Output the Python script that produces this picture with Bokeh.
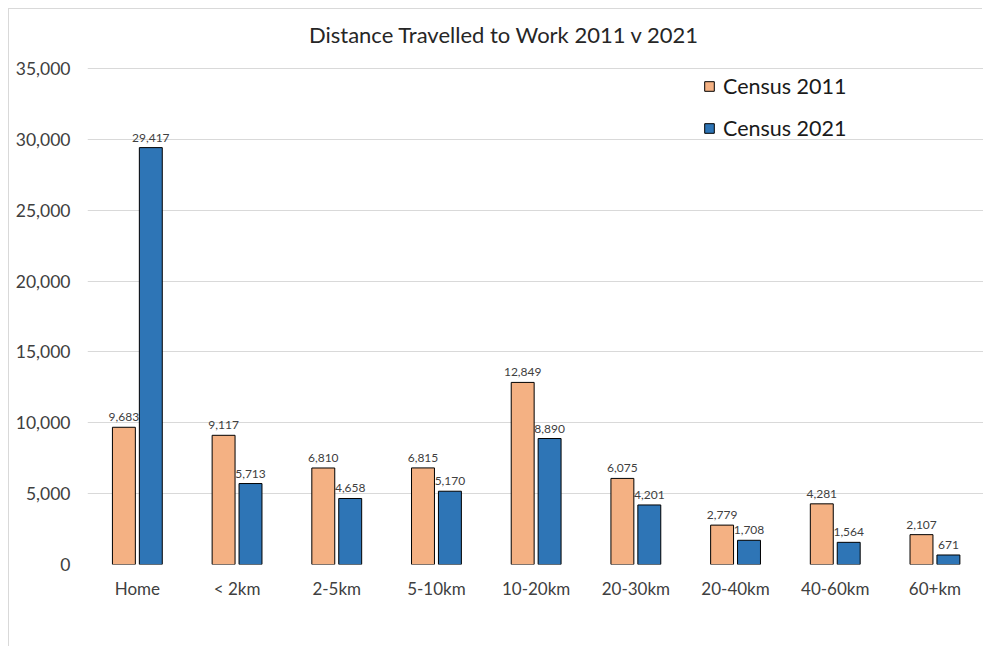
from bokeh.plotting import figure
from bokeh.models import (ColumnDataSource, Range1d, FixedTicker, NumeralTickFormatter,
                          Legend, LegendItem, Label)
from bokeh.embed import file_html
from bokeh.resources import INLINE
from bokeh.core.properties import value

categories = ["Home", "< 2km", "2-5km", "5-10km", "10-20km", "20-30km", "20-40km", "40-60km", "60+km"]
census_2011 = [9683, 9117, 6810, 6815, 12849, 6075, 2779, 4281, 2107]
census_2021 = [29417, 5713, 4658, 5170, 8890, 4201, 1708, 1564, 671]
series_names = ["Census 2011", "Census 2021"]
title_text = "Distance Travelled to Work 2011 v 2021"

FONT = "Lato"
ORANGE = "#F4B183"
BLUE = "#2E75B6"
TXT = "#404040"

xs = [i + 0.5 for i in range(len(categories))]
off = 0.135
bw = 0.23

src = ColumnDataSource(dict(
    x1=[x - off for x in xs], x2=[x + off for x in xs],
    y1=census_2011, y2=census_2021,
    l1=[f"{v:,}" for v in census_2011], l2=[f"{v:,}" for v in census_2021],
))

OX, OY = 9, 9          # canvas offset (outer border drawn 1px outside)
RIGHT = 983            # right edge of the drawing
PX_PER_CAT = 99.7      # horizontal scale
PX_PER_Y = 496 / 35000 # vertical scale
FRAME_TOP = OY
ZERO_Y = 564
y_end = (ZERO_Y - FRAME_TOP) / PX_PER_Y

p = figure(width=RIGHT - OX, height=647 - OY, output_backend="svg", toolbar_location=None,
           x_range=Range1d(0, (RIGHT - 87) / PX_PER_CAT), y_range=Range1d(0, y_end),
           min_border_left=87 - OX, min_border_right=0, min_border_top=0,
           min_border_bottom=647 - ZERO_Y)
p.styles = {"margin-left": f"{OX}px", "margin-top": f"{OY}px",
            "box-shadow": "-1px -1px 0 0 #d9d9d9"}
p.outline_line_color = None
p.background_fill_color = "white"
p.border_fill_color = "white"

r1 = p.vbar(x="x1", top="y1", width=bw, source=src, fill_color=ORANGE, line_color="black", line_width=1)
r2 = p.vbar(x="x2", top="y2", width=bw, source=src, fill_color=BLUE, line_color="black", line_width=1)

for xcol, ycol, lcol in [("x1", "y1", "l1"), ("x2", "y2", "l2")]:
    p.text(x=xcol, y=ycol, text=lcol, source=src, text_align="center", text_baseline="bottom",
           y_offset=-6, text_font=value(FONT), text_font_size="12px", text_color=TXT)

# axes
p.xaxis.ticker = FixedTicker(ticks=xs)
p.xaxis.major_label_overrides = {x: c for x, c in zip(xs, categories)}
p.yaxis.ticker = FixedTicker(ticks=list(range(0, 35001, 5000)))
p.yaxis.formatter = NumeralTickFormatter(format="0,0")
for ax in (p.xaxis, p.yaxis):
    ax.axis_line_color = None
    ax.major_tick_line_color = None
    ax.minor_tick_line_color = None
    ax.major_label_text_font = FONT
    ax.major_label_text_color = TXT
p.xaxis.major_label_text_font_size = "17px"
p.yaxis.major_label_text_font_size = "17.5px"
p.xaxis.major_label_standoff = 7
p.yaxis.major_label_standoff = 11
p.xgrid.grid_line_color = None
p.ygrid.grid_line_color = "#d9d9d9"
p.ygrid.grid_line_width = 1

# title (inside the extended frame, above the 35,000 gridline)
p.add_layout(Label(x=(504 - 87) / PX_PER_CAT, y=(ZERO_Y - 34) / PX_PER_Y, text=title_text,
                   text_align="center", text_baseline="middle", text_font=FONT,
                   text_font_size="22px", text_color="#262626"))

# legend
legend = Legend(items=[LegendItem(label=series_names[0], renderers=[r1]),
                       LegendItem(label=series_names[1], renderers=[r2])],
                location=(616, 423), orientation="vertical")
legend.border_line_color = None
legend.background_fill_alpha = 0
legend.padding = 0
legend.margin = 0
legend.spacing = 16
legend.label_height = 21
legend.glyph_height = 12
legend.glyph_width = 12
legend.label_standoff = 8
legend.label_text_font = FONT
legend.label_text_font_size = "21.5px"
legend.label_text_color = "#1a1a1a"
p.add_layout(legend, "center")

open("out.html", "w").write(file_html(p, INLINE))
